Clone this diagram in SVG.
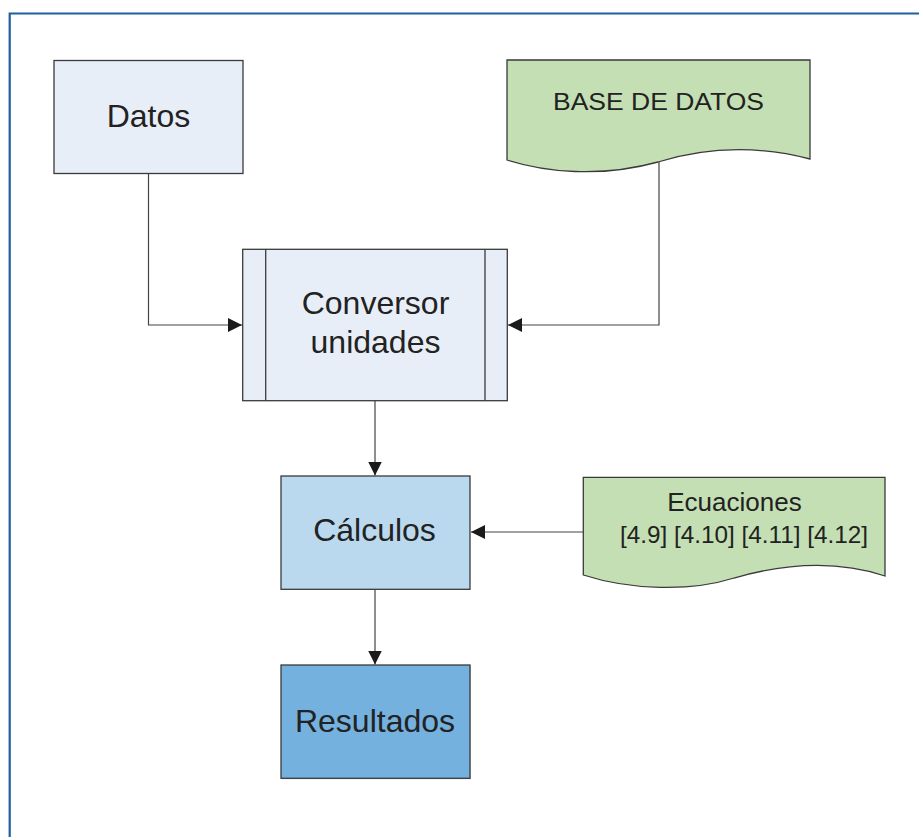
<svg xmlns="http://www.w3.org/2000/svg" width="919" height="837" viewBox="0 0 919 837">
<defs>
<style>
.box{stroke:#3a3a3a;stroke-width:1.3}
.t{font-family:"Liberation Sans",Arial,sans-serif;fill:#222;text-anchor:middle}
.c{fill:none;stroke:#444;stroke-width:1.2}
.frame{fill:none;stroke:#1F5E9E;stroke-width:2.2}
</style>
<marker id="ah" markerUnits="userSpaceOnUse" markerWidth="15" markerHeight="15" refX="14" refY="7" orient="auto">
<path d="M0,0 L14,7 L0,14 Z" fill="#1a1a1a"/>
</marker>
</defs>
<rect x="0" y="0" width="919" height="837" fill="#fff"/>
<path class="frame" d="M9.7,837 V13.5 H919"/>

<g id="connectors">
<path class="c" d="M148.5,174 V325 H242" marker-end="url(#ah)"/>
<path class="c" d="M659,162 V325 H508" marker-end="url(#ah)"/>
<path class="c" d="M375,401 V475.5" marker-end="url(#ah)"/>
<path class="c" d="M583,532 H471" marker-end="url(#ah)"/>
<path class="c" d="M375,589.5 V664.5" marker-end="url(#ah)"/>
</g>

<g id="datos">
<rect class="box" x="54" y="60.5" width="189" height="113" fill="#E8EEF7"/>
<text class="t" x="148.5" y="126.5" font-size="32">Datos</text>
</g>

<g id="base-de-datos">
<path class="box" d="M507,60 H810 V159 C760,146 710,146 658,162 C600,178 545,172 507,160 Z" fill="#C4DFB4"/>
<text class="t" x="658.5" y="110" font-size="24" textLength="211" lengthAdjust="spacingAndGlyphs">BASE DE DATOS</text>
</g>

<g id="conversor">
<rect class="box" x="242.7" y="249.3" width="264.6" height="151.4" fill="#E8EEF7"/>
<line class="box" x1="265.7" y1="249.3" x2="265.7" y2="400.7"/>
<line class="box" x1="485" y1="249.3" x2="485" y2="400.7"/>
<text class="t" x="375.5" y="314" font-size="32">Conversor</text>
<text class="t" x="375.5" y="353.3" font-size="32">unidades</text>
</g>

<g id="calculos">
<rect class="box" x="281" y="476" width="189" height="113.3" fill="#BAD9EF"/>
<text class="t" x="374.5" y="541" font-size="32">Cálculos</text>
</g>

<g id="ecuaciones">
<path class="box" d="M583.3,477.3 H885 V576 C840,561 790,562 734,578 C690,592 630,590 583.3,575 Z" fill="#C4DFB4"/>
<text class="t" x="734.5" y="510.5" font-size="26">Ecuaciones</text>
<text class="t" x="744" y="543" font-size="24.5" textLength="248" lengthAdjust="spacingAndGlyphs">[4.9] [4.10] [4.11] [4.12]</text>
</g>

<g id="resultados">
<rect x="282" y="666" width="189" height="113.3" fill="#d8d8d8"/>
<rect class="box" x="281" y="665" width="189" height="113.3" fill="#74B1DF"/>
<text class="t" x="375" y="731.7" font-size="32">Resultados</text>
</g>
</svg>
